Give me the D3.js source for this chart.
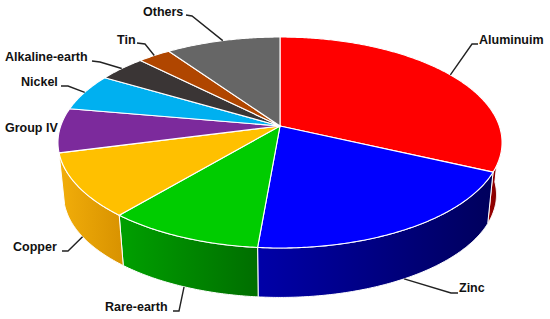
<!DOCTYPE html>
<html>
<head>
<meta charset="utf-8">
<script src="https://cdn.jsdelivr.net/npm/d3@7"></script>
<style>
  html, body { margin: 0; padding: 0; background: #fff; }
  svg { display: block; }
  text { font-family: "Liberation Sans", Arial, sans-serif; font-weight: 700; font-size: 12.5px; fill: #111; }
</style>
</head>
<body>
<svg id="chart" width="550" height="319"></svg>
<script>
const categories = ["Aluminuim", "Zinc", "Rare-earth", "Copper", "Group IV", "Nickel", "Alkaline-earth", "Tin", "Others"];
const shares = [31.9, 19.5, 9.8, 9.8, 6.8, 5.7, 4.05, 2.8, 9.7];
const topColors = ["#ff0000", "#0000ff", "#00cc00", "#ffc000", "#7c2a9c", "#00b0f0", "#3a3535", "#b04600", "#666666"];

// wall shading, left colour then right colour
const wallColors = {
    "Aluminuim": ["#a00000", "#700000"],
    "Zinc": ["#0000a8", "#00005c"],
    "Rare-earth": ["#00a000", "#006e00"],
    "Copper": ["#f2ae0a", "#d89200"]
};

// label box and leader elbow/end, px
const labelLayout = {
    "Aluminuim":      { x: 479, y: 40,  leader: [[472, 44], [478, 44]], from: "top" },
    "Zinc":           { x: 459, y: 288, leader: [[451, 293], [458, 293]], from: "bottom" },
    "Rare-earth":     { x: 105, y: 307, leader: [[179, 311], [173, 311]], from: "bottom" },
    "Copper":         { x: 13,  y: 247, leader: [[68, 251], [62, 251]], from: "bottom" },
    "Group IV":       { x: 5,   y: 128 },
    "Nickel":         { x: 21,  y: 82,  leader: [[68, 86], [61, 86]], from: "top" },
    "Alkaline-earth": { x: 5,   y: 57,  leader: [[100, 62], [92, 61]], from: "top" },
    "Tin":            { x: 117, y: 40,  leader: [[145, 44], [137, 43]], from: "top" },
    "Others":         { x: 143, y: 12,  leader: [[192, 16], [186, 15]], from: "top" }
};

const svg = d3.select("#chart");
const defs = svg.append("defs");

// perspective disc: circle centre lands on the apex, not the ellipse centre
const cx = 280, apexY = 126, a = 219.3, b = 102.9, k = 0.1564;
const bottomScale = 0.975, bottomY = 178.5;

function project(angle, face) {
    const u = Math.sin(angle), v = Math.cos(angle), w = 1 + k * v;
    const s = face === "bottom" ? bottomScale : 1;
    const y0 = face === "bottom" ? bottomY : apexY;
    return [cx + s * a * u / w, y0 - s * b * v / w];
}

function rim(start, end, face) {
    const n = Math.max(2, Math.ceil(Math.abs(end - start) / 0.01));
    return d3.range(n + 1).map(i => project(start + (end - start) * i / n, face));
}

const line = d3.line();
const pie = d3.pie().sort(null).value(d => d);
const arcs = pie(shares);

// only this part of the side wall faces the viewer
const wallFrom = 92 * Math.PI / 180, wallTo = 256 * Math.PI / 180;

arcs.forEach((d, i) => {
    const name = categories[i];
    const colors = wallColors[name];
    if (!colors) return;
    const start = Math.max(d.startAngle, wallFrom), end = Math.min(d.endAngle, wallTo);
    if (end <= start) return;
    const pts = rim(start, end, "top").concat(rim(end, start, "bottom"));
    const xs = d3.extent(pts, p => p[0]);
    const id = "wall-" + i;
    const grad = defs.append("linearGradient").attr("id", id)
        .attr("gradientUnits", "userSpaceOnUse")
        .attr("x1", xs[0]).attr("x2", xs[1]).attr("y1", 0).attr("y2", 0);
    grad.append("stop").attr("offset", 0).attr("stop-color", colors[0]);
    grad.append("stop").attr("offset", 1).attr("stop-color", colors[1]);
    svg.append("path")
        .attr("d", line(pts) + "Z")
        .attr("fill", `url(#${id})`)
        .attr("stroke", "#fff").attr("stroke-width", 1).attr("stroke-linejoin", "round");
});

arcs.forEach((d, i) => {
    const pts = [[cx, apexY]].concat(rim(d.startAngle, d.endAngle, "top"));
    svg.append("path")
        .attr("d", line(pts) + "Z")
        .attr("fill", topColors[i])
        .attr("stroke", "#fff").attr("stroke-width", 1.1).attr("stroke-linejoin", "round");
});

arcs.forEach((d, i) => {
    const layout = labelLayout[categories[i]];
    if (layout.leader) {
        const mid = (d.startAngle + d.endAngle) / 2;
        svg.append("path")
            .attr("d", line([project(mid, layout.from)].concat(layout.leader)))
            .attr("fill", "none").attr("stroke", "#222").attr("stroke-width", 1.4);
    }
    svg.append("text")
        .attr("x", layout.x).attr("y", layout.y)
        .attr("dominant-baseline", "central")
        .text(categories[i]);
});
</script>
</body>
</html>
